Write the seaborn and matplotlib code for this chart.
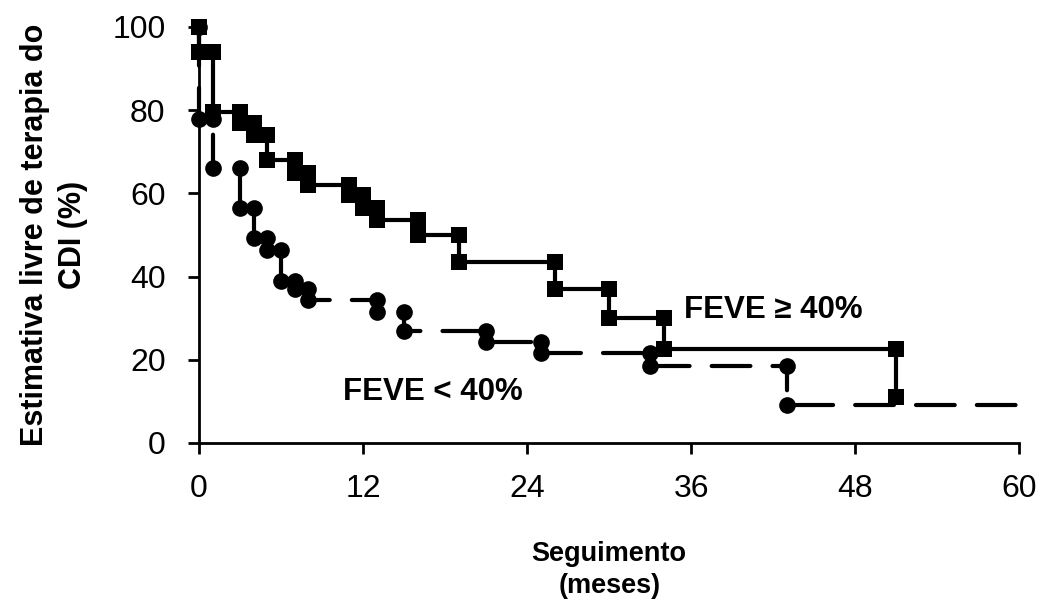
import matplotlib
matplotlib.use("Agg")
import matplotlib.pyplot as plt
import pandas as pd
import seaborn as sns

# Kaplan-Meier: event times (months) and survival (%) after each event
tempo_feve_alta = [0, 1, 3, 4, 5, 7, 8, 11, 12, 13, 16, 19, 26, 30, 34, 51]
sobrev_feve_alta = [94, 79.5, 77, 74, 68, 65, 62, 59.5, 56.5, 53.5, 50, 43.5, 37, 30, 22.5, 11]

tempo_feve_baixa = [0, 1, 3, 4, 5, 6, 7, 8, 13, 15, 21, 25, 33, 43]
sobrev_feve_baixa = [78, 66, 56.5, 49.3, 46.5, 39, 37, 34.3, 31.6, 27, 24.3, 21.7, 18.5, 9.2]
fim_feve_baixa = 60

x_ticks = [0, 12, 24, 36, 48, 60]
y_ticks = [0, 20, 40, 60, 80, 100]

rotulo_alta = "FEVE \u2265 40%"
rotulo_baixa = "FEVE < 40%"


def degraus(tempos, sobrev, inicio=100.0, fim=None):
    """Vertices of a step survival curve."""
    xs, ys, nivel = [], [], inicio
    for t, s in zip(tempos, sobrev):
        xs += [t, t]
        ys += [nivel, s]
        nivel = s
    if fim is not None:
        xs.append(fim)
        ys.append(nivel)
    return pd.DataFrame({"meses": xs, "sobrevida": ys})


sns.set_theme(style="white")
plt.rcParams["font.family"] = ["Liberation Sans", "DejaVu Sans"]
plt.rcParams.update({
    "text.color": "black",
    "axes.labelcolor": "black",
    "xtick.color": "black",
    "ytick.color": "black",
})

fig = plt.figure(figsize=(10.51, 6.04), dpi=100)
ax = fig.add_axes([0.1893, 0.2666, 0.7807, 0.6887])

df_baixa = degraus(tempo_feve_baixa, sobrev_feve_baixa, fim=fim_feve_baixa)
df_alta = degraus(tempo_feve_alta, sobrev_feve_alta)

sns.lineplot(data=df_baixa, x="meses", y="sobrevida", sort=False, estimator=None,
             ax=ax, color="black", linewidth=3, marker="o", markersize=12,
             markeredgecolor="black", markeredgewidth=0,
             markevery=list(range(len(df_baixa) - 1)), clip_on=False)
linha_baixa = ax.lines[-1]
linha_baixa.set_dashes((9.3, 5.3))
linha_baixa.set_dash_capstyle("round")

sns.lineplot(data=df_alta, x="meses", y="sobrevida", sort=False, estimator=None,
             ax=ax, color="black", linewidth=3, marker="s", markersize=12,
             markeredgecolor="black", markeredgewidth=0, clip_on=False)

ax.text(35.5, 32, rotulo_alta, fontsize=22.5, fontweight="bold", va="center",
        ha="left", color="black")
ax.text(10.5, 12.3, rotulo_baixa, fontsize=22.5, fontweight="bold", va="center",
        ha="left", color="black")

ax.set_xlim(0, 60)
ax.set_ylim(0, 100)
ax.set_xticks(x_ticks)
ax.set_yticks(y_ticks)
ax.tick_params(axis="both", direction="out", length=8, width=2, labelsize=23,
               colors="black", labelcolor="black", bottom=True, left=True)
ax.tick_params(axis="x", pad=14)
ax.tick_params(axis="y", pad=16)

for lado in ["top", "right"]:
    ax.spines[lado].set_visible(False)
for lado in ["left", "bottom"]:
    ax.spines[lado].set_color("black")
    ax.spines[lado].set_linewidth(2)

ax.set_xlabel("Seguimento\n(meses)", fontsize=19.5, fontweight="bold",
              linespacing=1.3, color="black")
ax.set_ylabel("Estimativa livre de terapia do\nCDI (%)", fontsize=22,
              fontweight="bold", linespacing=1.35, color="black")
ax.xaxis.set_label_coords(0.5, -0.235)
ax.yaxis.set_label_coords(-0.135, 0.5)

fig.savefig("out.png", dpi=100, facecolor="white")
